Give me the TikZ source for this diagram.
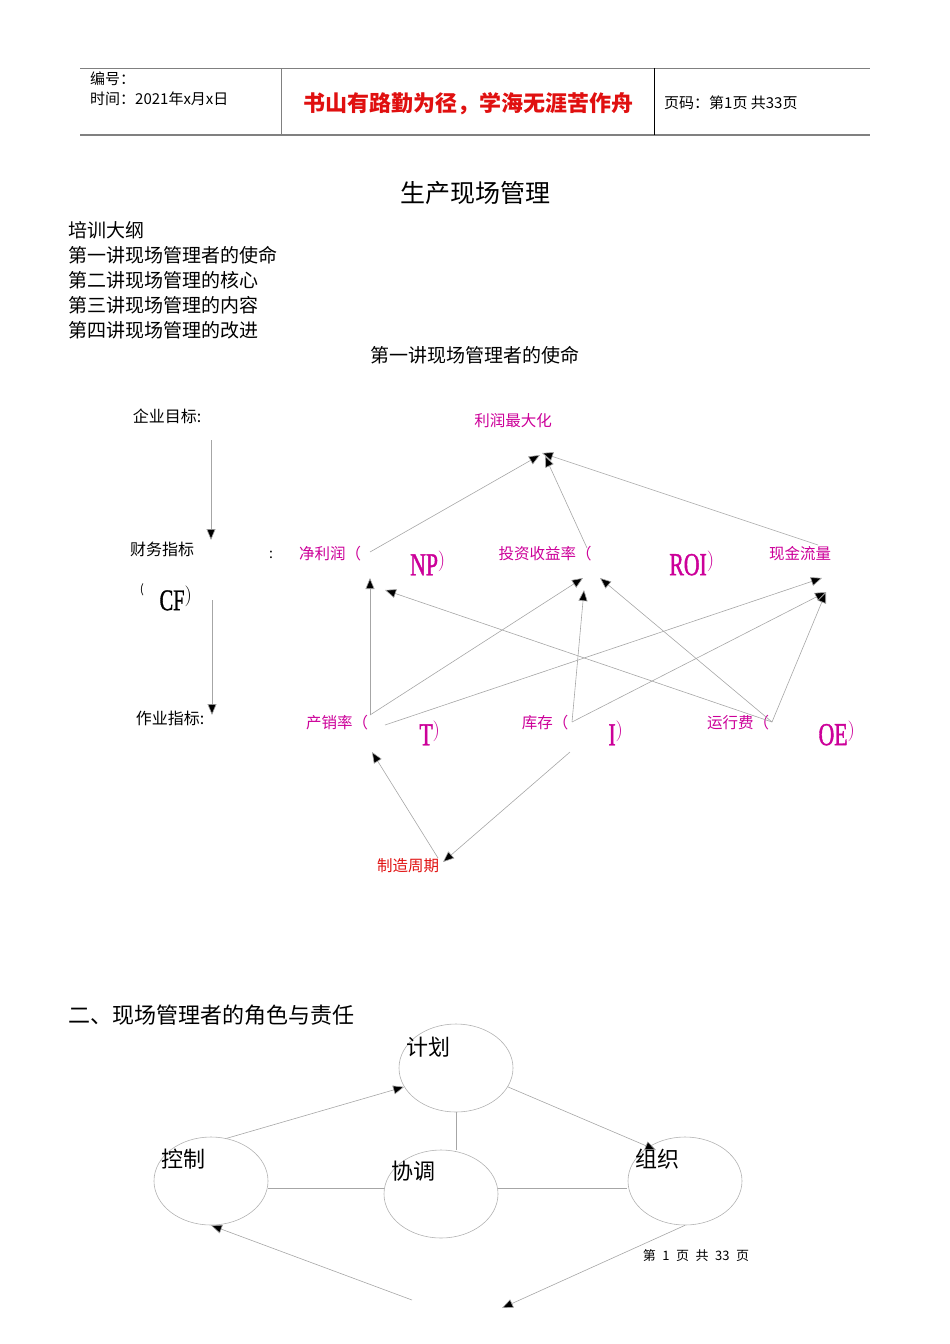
\documentclass[tikz,border=0pt]{standalone}
\usepackage{fontspec}
\setmainfont{Liberation Serif}
\newfontfamily\cjk{Noto Sans CJK SC}
\newfontfamily\bigser[FakeStretch=0.68,FakeBold=1.2]{Liberation Serif}
\usetikzlibrary{arrows.meta,shapes.geometric}
\definecolor{mag}{HTML}{CC0099}
\definecolor{redc}{HTML}{E01010}
\begin{document}
\begin{tikzpicture}[x=1pt,y=-1pt,
  t/.style={inner sep=0pt,font=\cjk\fontsize{#1}{#1}\selectfont},
  ml/.style={inner sep=0pt,text=mag,font=\cjk\fontsize{15.5}{15.5}\selectfont},
  bg/.style={inner sep=0pt,text=mag,font=\bigser\fontsize{32}{32}\selectfont},
  ln/.style={draw=gray!70,line width=0.6pt},
  ar/.style={ln,-{Triangle[length=11pt,width=9pt,fill=black]}},
  el/.style={draw=gray!60,line width=0.6pt,ellipse,minimum width=114pt,minimum height=88pt}]
\useasboundingbox (0,0) rectangle (950,1344);
% header
\draw[gray,line width=0.8pt] (80,68) -- (870,68);
\draw[gray,line width=1.2pt] (80,135) -- (870,135);
\draw[gray] (281,68) -- (281,135);
\draw (654,68) -- (654,135);
\node[t=15,anchor=west] (h1) at (90,79) {编号：};
\node[t=15,anchor=west] (h2) at (90,99) {时间：2021年x月x日};
\node[t=22,text=redc,font=\cjk\fontsize{22}{22}\selectfont\bfseries] (h3) at (468,104) {书山有路勤为径，学海无涯苦作舟};
\node[t=15,anchor=west] (h4) at (664,103) {页码：第1页 共33页};
% title
\node[t=25] (title) at (475,193) {生产现场管理};
\foreach \s/\y/\n in {培训大纲/230/o1,第一讲现场管理者的使命/255/o2,第二讲现场管理的核心/280/o3,第三讲现场管理的内容/305/o4,第四讲现场管理的改进/330/o5}
  \node[t=19,anchor=west] (\n) at (68,\y) {\s};
\node[t=19] (sub) at (475,355) {第一讲现场管理者的使命};
% left labels
\node[t=16] (goal) at (167,416) {企业目标:};
\node[t=16] (fin) at (162,549) {财务指标};
\node[t=12] (lp) at (142,590) {(};
\node[inner sep=0pt,font=\bigser\fontsize{30}{30}\selectfont] (cf) at (176,598) {CF$^)$};
\node[t=16] (op) at (170,718) {作业指标:};
\coordinate (a1) at (211,440); \coordinate (a2) at (211,540);
\coordinate (a3) at (212,600); \coordinate (a4) at (212,715);
\draw[ar] (a1) -- (a2);
\draw[ar] (a3) -- (a4);
% magenta nodes
\node[t=14] (colon) at (271,555) {:};
\node[ml] (max) at (513,421) {利润最大化};
\node[ml] (np) at (330,554) {净利润（};
\node[bg] (npb) at (428,563) {NP$^)$};
\node[ml] (roi) at (545,554) {投资收益率（};
\node[bg] (roib) at (692,563) {ROI$^)$};
\node[ml] (cash) at (800,554) {现金流量};
\node[ml] (t) at (337,723) {产销率（};
\node[bg] (tb) at (430,733) {T$^)$};
\node[ml] (inv) at (545,723) {库存（};
\node[bg] (ib) at (616,733) {I$^)$};
\node[ml] (oe) at (738,723) {运行费（};
\node[bg] (oeb) at (837,733) {OE$^)$};
\node[ml,text=redc] (cyc) at (408,866) {制造周期};
% connector coordinates
\coordinate (npS) at (370,552); \coordinate (M1) at (540,455);
\coordinate (roiS) at (587,548); \coordinate (M2) at (545,456);
\coordinate (cashS) at (818,545); \coordinate (M3) at (542,453);
\coordinate (tS) at (370,715); \coordinate (tS2) at (385,725);
\coordinate (npE) at (370,578); \coordinate (npE2) at (385,590);
\coordinate (roiE1) at (583,578); \coordinate (roiE2) at (584,590); \coordinate (roiE3) at (600,578);
\coordinate (cE1) at (822,578); \coordinate (cE2) at (826,592);
\coordinate (iS) at (572,722); \coordinate (oS) at (772,722);
\coordinate (cycS) at (438,858); \coordinate (tE) at (372,752);
\coordinate (iS2) at (570,752); \coordinate (cycE) at (443,862);
\draw[ar] (npS) -- (M1);
\draw[ar] (roiS) -- (M2);
\draw[ar] (cashS) -- (M3);
\draw[ar] (tS) -- (npE);
\draw[ar] (tS) -- (roiE1);
\draw[ar] (tS2) -- (cE1);
\draw[ar] (iS) -- (roiE2);
\draw[ar] (iS) -- (cE2);
\draw[ar] (oS) -- (npE2);
\draw[ar] (oS) -- (roiE3);
\draw[ar] (oS) -- (cE2);
\draw[ar] (cycS) -- (tE);
\draw[ar] (iS2) -- (cycE);
% section 2
\node[t=22,anchor=west] (sec) at (68,1015) {二、现场管理者的角色与责任};
\node[el] (plan) at (456,1068) {};
\node[el] (ctrl) at (211,1181) {};
\node[el] (coord) at (441,1194) {};
\node[el] (org) at (685,1181) {};
\node[t=22] (lplan) at (428,1047) {计划};
\node[t=22] (lctrl) at (183,1159) {控制};
\node[t=22] (lcoord) at (413,1171) {协调};
\node[t=22] (lorg) at (657,1159) {组织};
\coordinate (b1) at (656,1150); \coordinate (b2) at (502,1308); \coordinate (b3) at (412,1300);
\coordinate (v2) at (456,1150);
\coordinate (h1a) at (268,1188); \coordinate (h1b) at (384,1188);
\coordinate (h2a) at (498,1188); \coordinate (h2b) at (627,1188);
\draw[ar] (ctrl.70) -- (plan.200);
\draw[ar] (plan.-20) -- (b1);
\draw[ln] (plan.south) -- (v2);
\draw[ln] (h1a) -- (h1b);
\draw[ln] (h2a) -- (h2b);
\draw[ar] (org.south) -- (b2);
\draw[ar] (b3) -- (ctrl.south);
\node[t=13] (foot) at (696,1256) {第\enspace 1\enspace 页\enspace 共\enspace 33\enspace 页};
\end{tikzpicture}
\end{document}
